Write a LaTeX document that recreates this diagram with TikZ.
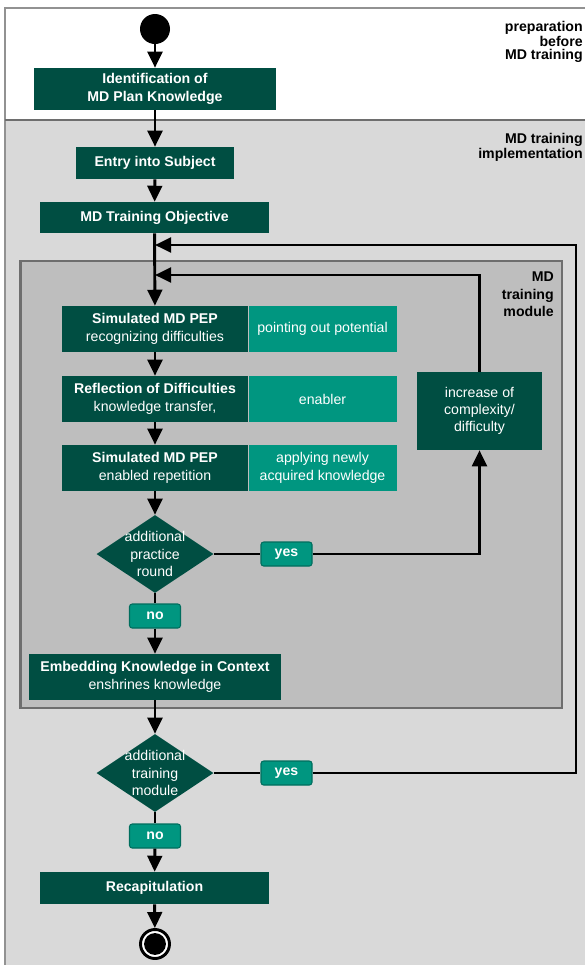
\documentclass[tikz,border=0pt]{standalone}
\usepackage{fontspec}
\setmainfont{Liberation Sans}
\usepackage{xcolor}
\usepackage{tikz}
\usetikzlibrary{shapes.geometric, arrows.meta, positioning}
\definecolor{stepgreen}{RGB}{0, 78, 66}
\definecolor{notegreen}{RGB}{0, 150, 128}
\definecolor{outergray}{RGB}{217, 217, 217}
\definecolor{modulegray}{RGB}{190, 190, 190}
\definecolor{framegray}{RGB}{110, 110, 110}
\newcommand{\pxu}{0.75pt}

\begin{document}
\begin{tikzpicture}[
    x=0.75pt, y=-0.75pt,
    every node/.style={font=\fontsize{10.6}{13}\selectfont, text=white, inner sep=0pt},
    block/.style={rectangle, fill=stepgreen, align=center, minimum height=32*\pxu},
    noteblock/.style={rectangle, fill=notegreen, align=center, minimum width=148*\pxu, minimum height=46*\pxu},
    decision/.style={diamond, fill=stepgreen, minimum width=117*\pxu, minimum height=78*\pxu},
    decisiontext/.style={align=center, text=white},
    answer/.style={rectangle, rounded corners=2pt, fill=notegreen, draw=stepgreen!55!notegreen, line width=0.8pt, minimum width=51*\pxu, minimum height=24*\pxu, font=\fontsize{10.6}{13}\selectfont\bfseries},
    lane/.style={text=black, align=right, font=\fontsize{10.6}{9.8}\selectfont\bfseries},
    startdot/.style={circle, fill=black, minimum size=30*\pxu},
    enddot/.style={circle, draw=black, line width=2.2pt, fill=white, minimum size=29*\pxu,
        path picture={\fill[black] (path picture bounding box.center) circle (8.2pt);}},
    modframe/.style={fill=modulegray, draw=framegray, line width=2pt},
    arr/.style={-{Triangle[length=12pt, width=11pt]}, line width=2.2pt},
    conn/.style={line width=2.2pt},
]
\useasboundingbox (0,0) rectangle (585,965);

% ── Lanes ──
\fill[white] (0,0) rectangle (585,965);
\fill[outergray] (5,120) rectangle (592,970);
\draw[framegray!75, line width=1.2pt] (592,8) -- (5,8) -- (5,970);
\draw[framegray, line width=2.2pt] (5,120) -- (592,120);
\draw[modframe] (20.5,261) rectangle (562,708);

\node[lane, anchor=north east] (prep) at (583,21) {preparation\\before\\MD training};
\node[lane, anchor=north east] (impl) at (583,133) {MD training\\implementation};
\node[lane, anchor=north east, font=\fontsize{10.6}{13}\selectfont\bfseries] (modlabel) at (554,272) {MD\\training\\module};

% ── Preparation ──
\node[startdot] (start) at (155,29) {};
\node[block, minimum width=242*\pxu, minimum height=42*\pxu] (ident) at (155,89) {\textbf{Identification of}\\\textbf{MD Plan Knowledge}};

% ── Implementation ──
\node[block, minimum width=158*\pxu] (entry) at (155,163) {\textbf{Entry into Subject}};
\node[block, minimum width=229*\pxu, minimum height=31*\pxu] (goal) at (154.5,217.5) {\textbf{MD Training Objective}};
\coordinate (outerjoin) at (155,245);
\coordinate (innerjoin) at (155,275);
\coordinate (outerright) at (576,245);

% ── Training module ──
\node[block, minimum width=186*\pxu, minimum height=46*\pxu] (sim1) at (155,329) {\textbf{Simulated MD PEP}\\recognizing difficulties};
\node[noteblock, right=0pt of sim1] (sim1note) {pointing out potential};
\node[block, minimum width=186*\pxu, minimum height=46*\pxu] (refl) at (155,399) {\textbf{Reflection of Difficulties}\\knowledge transfer,};
\node[noteblock, right=0pt of refl] (reflnote) {enabler};
\node[block, minimum width=186*\pxu, minimum height=46*\pxu] (sim2) at (155,468) {\textbf{Simulated MD PEP}\\enabled repetition};
\node[noteblock, right=0pt of sim2] (sim2note) {applying newly\\acquired knowledge};
\node[block, minimum width=125*\pxu, minimum height=78*\pxu] (incr) at (479.5,411) {increase of\\complexity/\\difficulty};

\node[decision, label={[decisiontext]center:additional\\practice\\round}] (round) at (155,554) {};
\node[answer] (roundyes) at (286.5,554) {yes};
\node[answer] (roundno) at (155,616) {no};
\node[block, minimum width=252*\pxu, minimum height=46*\pxu] (embed) at (155,677) {\textbf{Embedding Knowledge in Context}\\enshrines knowledge};

% ── Next module ──
\node[decision, label={[decisiontext]center:additional\\training\\module}] (more) at (155,773) {};
\node[answer] (moreyes) at (286.5,773) {yes};
\node[answer] (moreno) at (155,836) {no};
\node[block, minimum width=229*\pxu] (recap) at (154.5,888) {\textbf{Recapitulation}};
\node[enddot] (end) at (155,944) {};

% ── Arrows ──
\draw[arr] (start) -- (ident);
\draw[arr] (ident) -- (entry);
\draw[arr] (entry) -- (goal);
\draw[arr] (goal) -- (sim1);
\draw[arr] (sim1) -- (refl);
\draw[arr] (refl) -- (sim2);
\draw[arr] (sim2) -- (round);
\draw[conn] (round) -- (roundyes);
\draw[arr] (roundyes) -| (incr);
\draw[arr] (incr) |- (innerjoin);
\draw[conn] (round) -- (roundno);
\draw[arr] (roundno) -- (embed);
\draw[arr] (embed) -- (more);
\draw[conn] (more) -- (moreyes);
\draw[arr] (moreyes) -| (outerright) -- (outerjoin);
\draw[conn] (more) -- (moreno);
\draw[arr] (moreno) -- (recap);
\draw[arr] (recap) -- (end);

\end{tikzpicture}
\end{document}
